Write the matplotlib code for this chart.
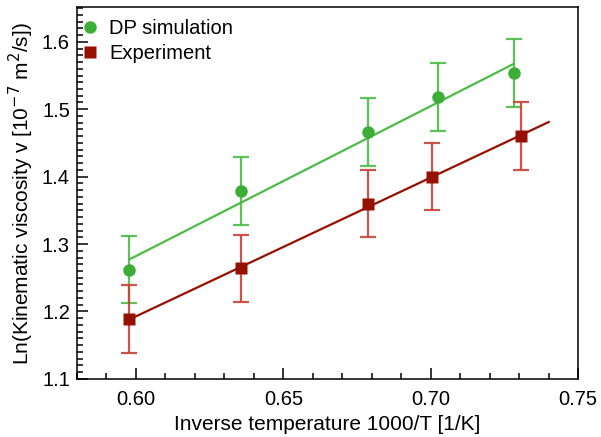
import numpy as np
import matplotlib
matplotlib.use("Agg")
import matplotlib.pyplot as plt
from matplotlib.ticker import MultipleLocator

plt.rcParams['font.family'] = ['Liberation Sans', 'DejaVu Sans']

# data
x_sim = [0.5977, 0.6357, 0.6787, 0.7025, 0.7283]
y_sim = [1.262, 1.379, 1.466, 1.518, 1.554]
err_sim = [0.05, 0.05, 0.05, 0.05, 0.05]

x_exp = [0.5977, 0.6357, 0.6787, 0.7005, 0.7305]
y_exp = [1.189, 1.264, 1.360, 1.400, 1.460]
err_exp = [0.05, 0.05, 0.05, 0.05, 0.05]

# fitted lines (end points)
fit_sim_x = [0.5977, 0.728]
fit_sim_y = [1.277, 1.567]
fit_exp_x = [0.5977, 0.740]
fit_exp_y = [1.188, 1.481]

green = '#3cae37'
green_err = '#4dbb47'
red = '#961000'
red_err = '#c8403a'

fs = 14.5

fig = plt.figure(figsize=(6.01, 4.37), dpi=100)
ax = fig.add_axes([0.128, 0.133, 0.834, 0.850])

ax.plot(fit_sim_x, fit_sim_y, color=green_err, lw=1.6, zorder=2)
ax.plot(fit_exp_x, fit_exp_y, color=red, lw=1.6, zorder=2)

ax.errorbar(x_sim, y_sim, yerr=err_sim, fmt='none', ecolor=green_err,
            elinewidth=1.6, capsize=6, capthick=1.6, alpha=0.9, zorder=3)
ax.errorbar(x_exp, y_exp, yerr=err_exp, fmt='none', ecolor=red_err,
            elinewidth=1.6, capsize=6, capthick=1.6, alpha=0.9, zorder=3)

ax.plot(x_sim, y_sim, 'o', color=green, ms=9, mec='none', zorder=4,
        label='DP simulation')
ax.plot(x_exp, y_exp, 's', color=red, ms=9, mec='none', zorder=4,
        label='Experiment')

ax.set_xlim(0.58, 0.75)
ax.set_ylim(1.1, 1.651)
ax.xaxis.set_major_locator(MultipleLocator(0.05))
ax.xaxis.set_minor_locator(MultipleLocator(0.01))
ax.yaxis.set_major_locator(MultipleLocator(0.1))
ax.yaxis.set_minor_locator(MultipleLocator(0.01))
ax.xaxis.set_major_formatter(plt.FuncFormatter(lambda v, p: '%.2f' % v))
ax.yaxis.set_major_formatter(plt.FuncFormatter(lambda v, p: '%.1f' % v))

ax.tick_params(which='both', direction='in', top=False, right=False,
               labelsize=fs, width=1.1)
ax.tick_params(axis='x', which='major', length=8, pad=8)
ax.tick_params(axis='y', which='major', length=8, pad=5)
ax.tick_params(which='minor', length=4.5)
for s in ax.spines.values():
    s.set_linewidth(1.1)

ax.set_xlabel('Inverse temperature 1000/T [1/K]', fontsize=15, labelpad=4)
ax.set_ylabel('Ln(Kinematic viscosity v [10$^{-7}$ m$^{2}$/s])', fontsize=15,
              labelpad=4)

ax.legend(loc='upper left', frameon=False, fontsize=fs, handletextpad=0.5,
          borderaxespad=0.1, handlelength=0.9, labelspacing=0.3,
          bbox_to_anchor=(-0.012, 0.997))

fig.savefig('out.png', dpi=100)
